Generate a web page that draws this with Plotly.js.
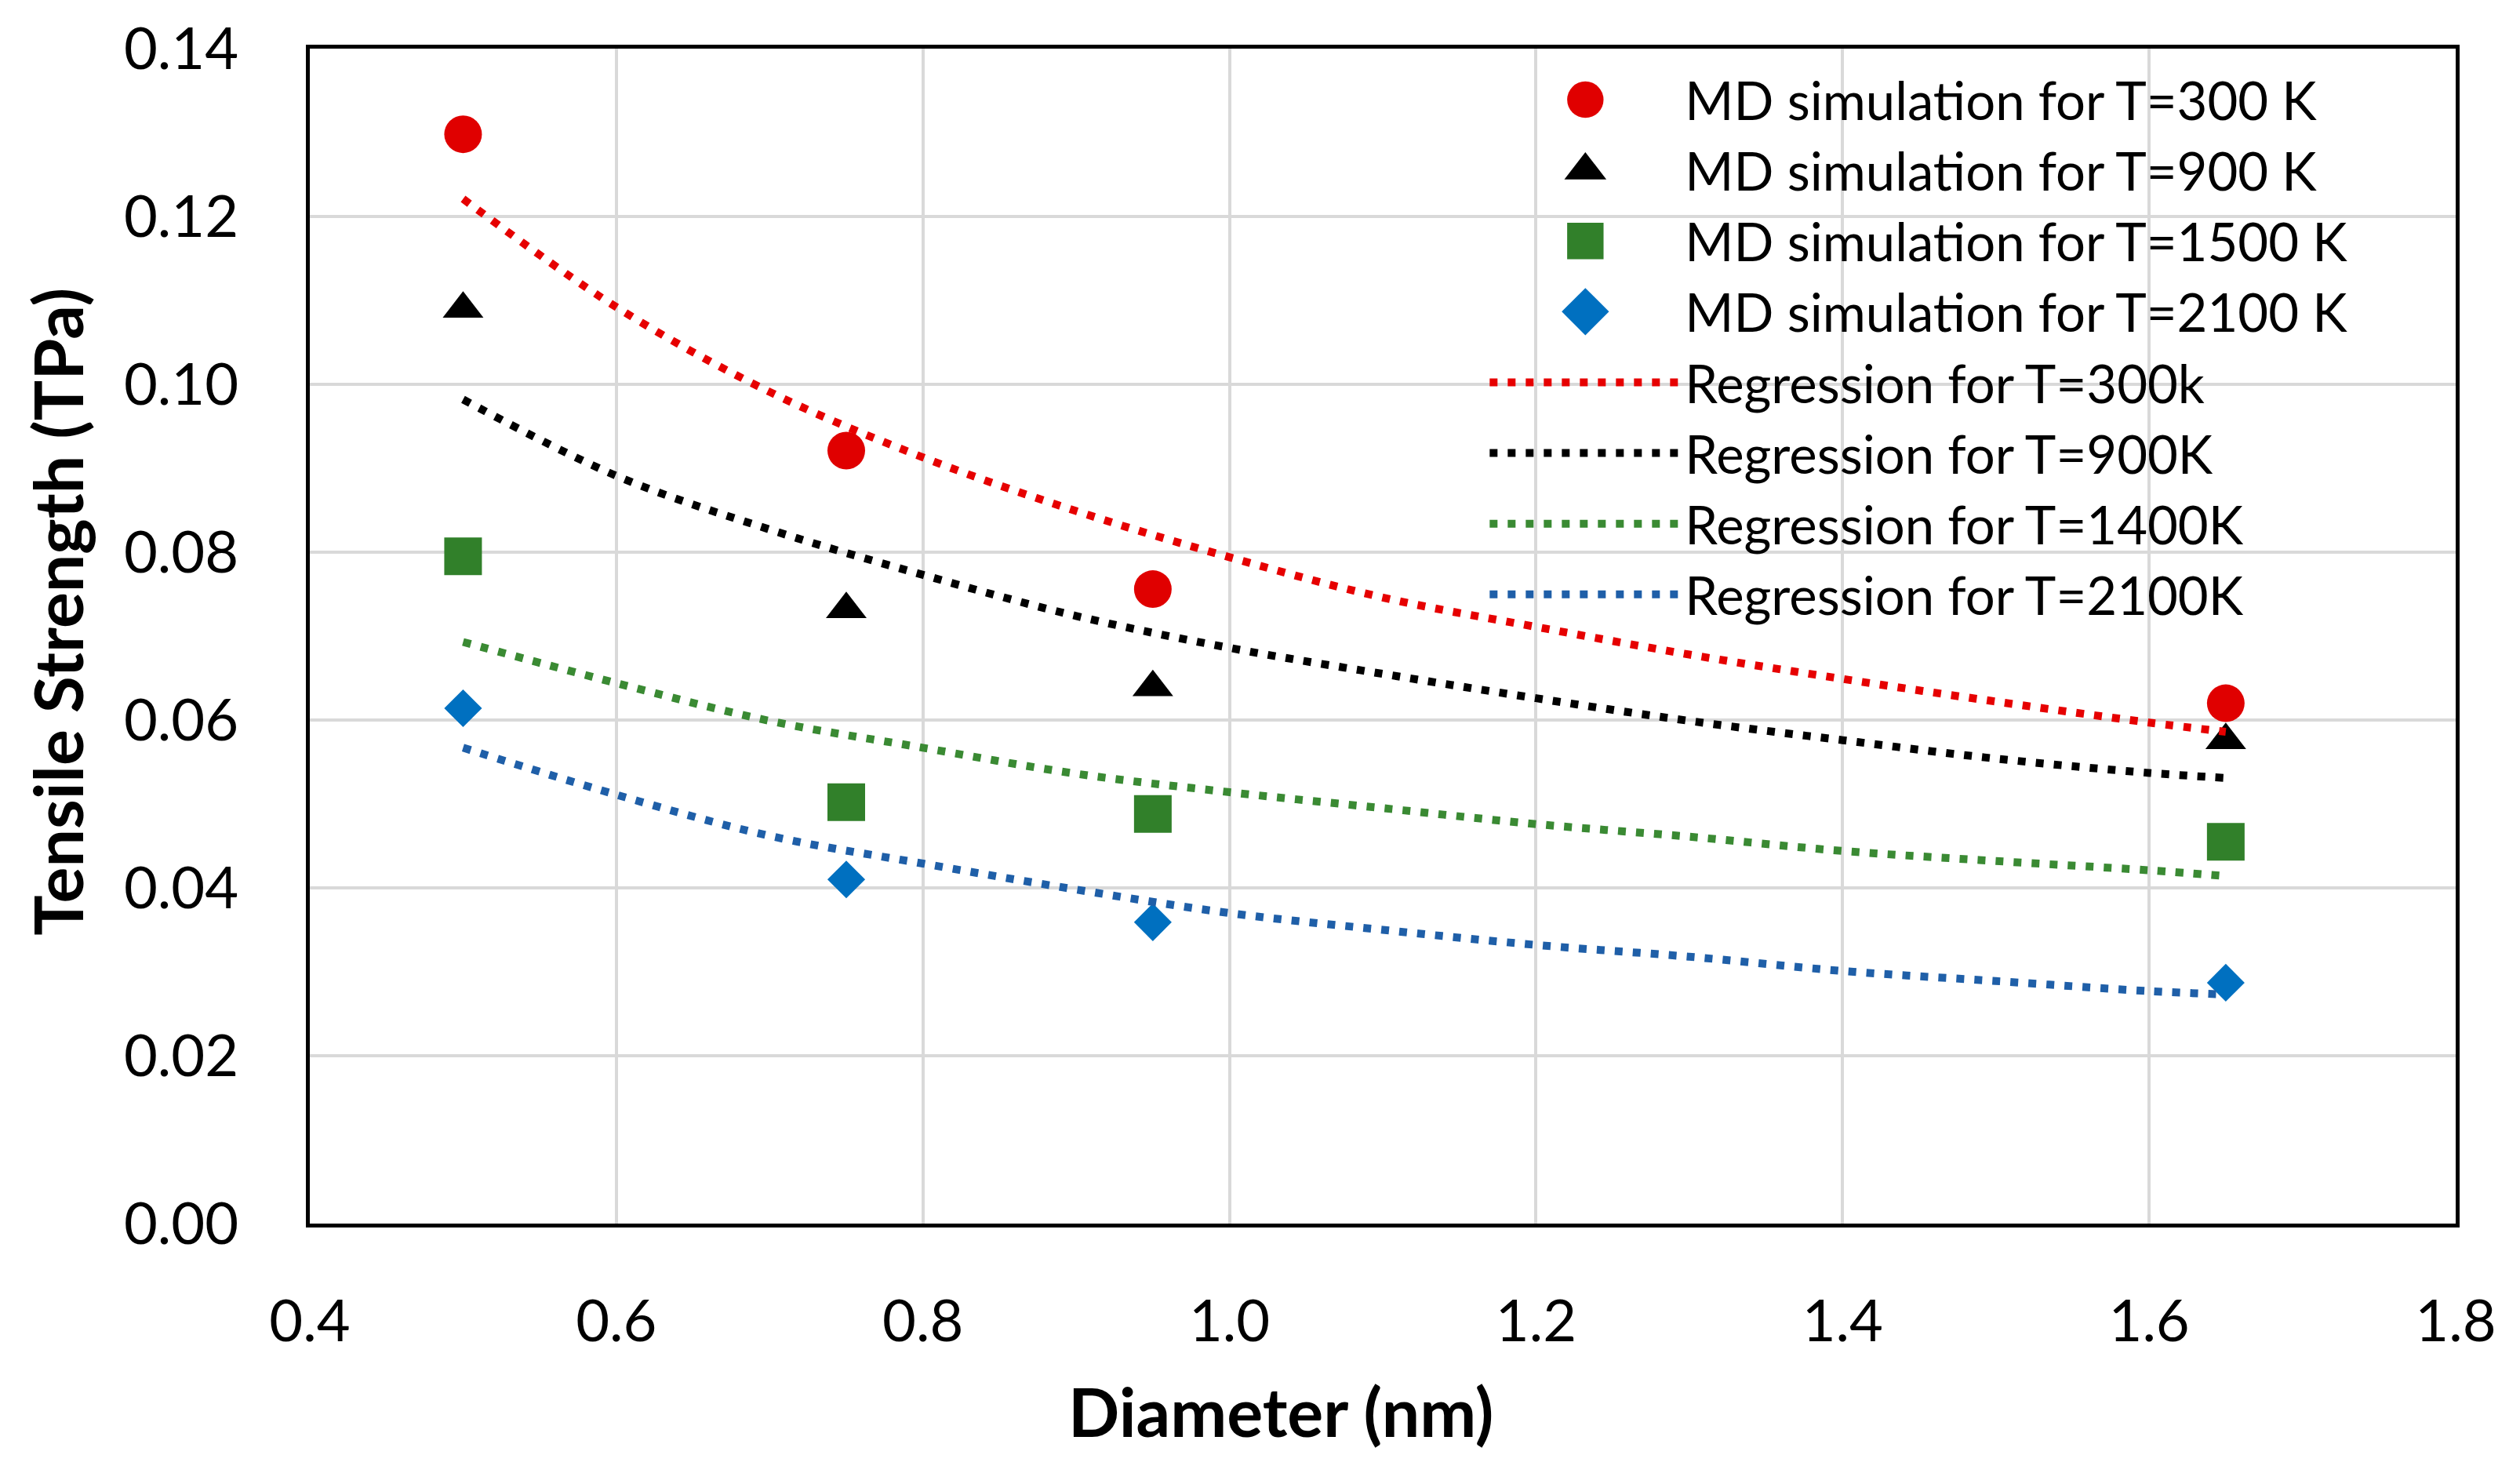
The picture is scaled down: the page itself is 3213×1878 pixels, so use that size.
<!DOCTYPE html>
<html>
<head>
<meta charset="utf-8">
<script src="https://cdn.plot.ly/plotly-3.0.1.min.js"></script>
<style>html,body{margin:0;padding:0;background:#fff;}#chart{width:3213px;height:1878px;}</style>
</head>
<body>
<div id="chart"></div>
<script>
// Diameters of the MD simulation points (nm)
const diameters = [0.5, 0.75, 0.95, 1.65];
// Tensile strength (TPa) from MD simulation
const md300  = [0.1298, 0.0921, 0.0756, 0.0620];
const md900  = [0.1090, 0.0732, 0.0639, 0.0576];
const md1500 = [0.0795, 0.0502, 0.0488, 0.0455];
const md2100 = [0.0614, 0.0410, 0.0359, 0.0287];

// Regression curves
const regX    = [0.5, 0.6, 0.7, 0.8, 0.9, 1.0, 1.1, 1.2, 1.3, 1.4, 1.5, 1.6, 1.65];
const reg300  = [0.1221, 0.1092, 0.0991, 0.0913, 0.0849, 0.0794, 0.0746, 0.0711, 0.0678, 0.0649, 0.0622, 0.0597, 0.0586];
const reg900  = [0.0982, 0.0891, 0.0827, 0.0773, 0.0724, 0.0686, 0.0655, 0.0626, 0.0599, 0.0576, 0.0554, 0.0537, 0.0531];
const reg1400 = [0.0693, 0.0644, 0.0599, 0.0567, 0.0536, 0.0514, 0.0495, 0.0476, 0.0461, 0.0444, 0.0432, 0.0421, 0.0414];
const reg2100 = [0.0567, 0.0511, 0.0462, 0.0429, 0.0398, 0.0370, 0.0350, 0.0332, 0.0318, 0.0301, 0.0289, 0.0277, 0.0273];

const mdNames  = ['MD simulation for T=300 K', 'MD simulation for T=900 K', 'MD simulation for T=1500 K', 'MD simulation for T=2100 K'];
const regNames = ['Regression for T=300k', 'Regression for T=900K', 'Regression for T=1400K', 'Regression for T=2100K'];

const xTicks = [0.4, 0.6, 0.8, 1.0, 1.2, 1.4, 1.6, 1.8];
const xTickText = ['0.4', '0.6', '0.8', '1.0', '1.2', '1.4', '1.6', '1.8'];
const yTicks = [0, 0.02, 0.04, 0.06, 0.08, 0.10, 0.12, 0.14];
const yTickText = ['0.00', '0.02', '0.04', '0.06', '0.08', '0.10', '0.12', '0.14'];

const mdSeries = [md300, md900, md1500, md2100];
const mdColors = ['#E00000', '#000000', '#31802A', '#0070C0'];
const mdSymbols = ['circle', 'triangle-up', 'square', 'diamond'];
const mdSizes = [48, 45, 48, 37];

const regSeries = [reg300, reg900, reg1400, reg2100];
const regColors = ['#E60000', '#000000', '#3A8A33', '#1F5FA8'];

const traces = [];
mdSeries.forEach((ys, i) => {
  traces.push({
    type: 'scatter', mode: 'markers', name: mdNames[i],
    x: diameters, y: ys,
    marker: {color: mdColors[i], symbol: mdSymbols[i], size: mdSizes[i], line: {width: 0}},
    cliponaxis: false
  });
});
regSeries.forEach((ys, i) => {
  traces.push({
    type: 'scatter', mode: 'lines', name: regNames[i],
    x: regX, y: ys,
    line: {color: regColors[i], width: 10, dash: '10px,13px', shape: 'spline', smoothing: 1}
  });
});

const FONT = 'Lato, "Open Sans", sans-serif';

const layout = {
  width: 3213, height: 1878,
  margin: {l: 395, r: 82, t: 62, b: 318, pad: 0},
  paper_bgcolor: '#ffffff', plot_bgcolor: '#ffffff',
  font: {family: FONT, color: '#000000'},
  showlegend: true,
  legend: {
    x: 0.548, y: 0.99, xanchor: 'left', yanchor: 'top',
    bgcolor: 'rgba(255,255,255,0)', borderwidth: 0,
    font: {family: FONT, size: 67, color: '#000000'},
    itemwidth: 244, tracegroupgap: 0
  },
  xaxis: {
    range: [0.4, 1.8], tickvals: xTicks, ticktext: xTickText,
    showgrid: true, gridcolor: '#d9d9d9', gridwidth: 4,
    showline: true, linecolor: '#000000', linewidth: 5, mirror: true,
    ticks: 'outside', ticklen: 1, tickcolor: 'rgba(0,0,0,0)',
    ticklabelstandoff: 55,
    tickfont: {family: FONT, size: 74, color: '#000000'},
    zeroline: false
  },
  yaxis: {
    range: [0, 0.14], tickvals: yTicks, ticktext: yTickText,
    showgrid: true, gridcolor: '#d9d9d9', gridwidth: 4,
    showline: true, linecolor: '#000000', linewidth: 5, mirror: true,
    ticks: 'outside', ticklen: 1, tickcolor: 'rgba(0,0,0,0)',
    ticklabelstandoff: 70,
    tickfont: {family: FONT, size: 74, color: '#000000'},
    zeroline: false
  },
  annotations: [
    {text: '<b>Diameter (nm)</b>', xref: 'paper', yref: 'paper', x: 0.4525, y: -0.1595,
     xanchor: 'center', yanchor: 'middle', showarrow: false,
     font: {family: FONT, size: 86, color: '#000000'}},
    {text: '<b>Tensile Strength (TPa)</b>', xref: 'paper', yref: 'paper', x: -0.118, y: 0.521,
     xanchor: 'center', yanchor: 'middle', showarrow: false, textangle: -90,
     font: {family: FONT, size: 86, color: '#000000'}}
  ]
};

Plotly.newPlot('chart', traces, layout, {displayModeBar: false, staticPlot: true}).then(function () {
  // enlarge legend marker symbols to match the chart's markers
  document.querySelectorAll('.legend .legendpoints path.scatterpts').forEach(function (p) {
    const t = p.getAttribute('transform') || '';
    p.setAttribute('transform', t + ' scale(2.9)');
  });
});
</script>
</body>
</html>
